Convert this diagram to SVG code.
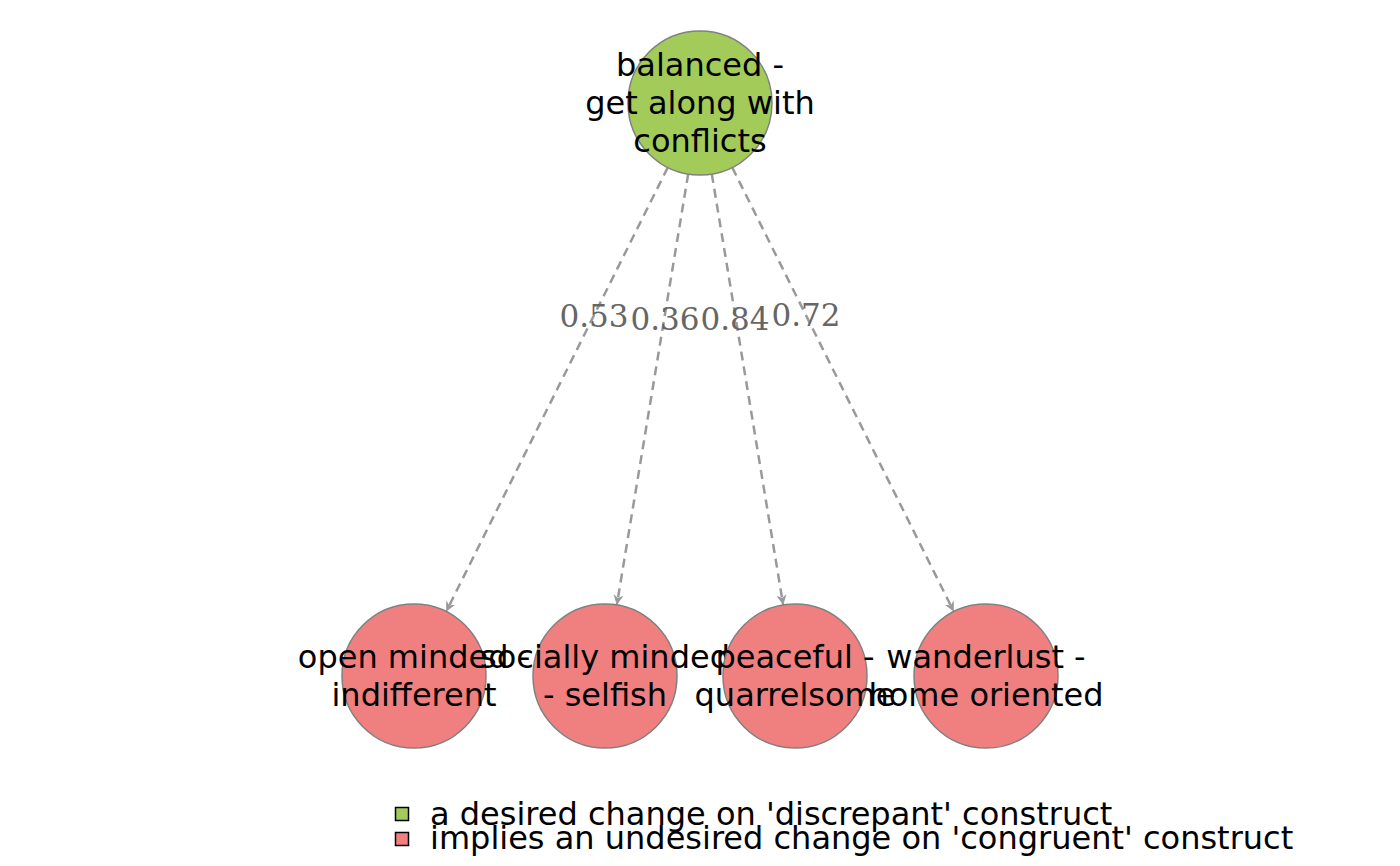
<svg xmlns="http://www.w3.org/2000/svg" width="1400" height="866" viewBox="0 0 1400 866">
<defs>
<style>
.node circle{stroke:#808080;stroke-width:1.5}
.nt{font-family:"DejaVu Sans",sans-serif;font-size:32px;fill:#000;text-anchor:middle}
.edge{stroke:#999999;stroke-width:2.5;stroke-dasharray:9,6;fill:none;marker-end:url(#ah)}
.el{font-family:"DejaVu Serif",serif;font-size:31px;fill:#666666;text-anchor:middle}
.lg{font-family:"DejaVu Sans",sans-serif;font-size:32px;fill:#000}
</style>
<marker id="ah" viewBox="0 0 10 10" refX="10" refY="5" markerWidth="4" markerHeight="4" orient="auto" markerUnits="strokeWidth">
<path d="M0,0 L10,5 L0,10 L3,5 z" fill="#999999"/>
</marker>
</defs>
<rect width="1400" height="866" fill="#ffffff"/>
<g id="connectors">
<line class="edge" x1="667.8" y1="167.4" x2="446.2" y2="611.6"/>
<line class="edge" x1="688.2" y1="174" x2="616.8" y2="605"/>
<line class="edge" x1="711.8" y1="174" x2="783.2" y2="605"/>
<line class="edge" x1="732.2" y1="167.4" x2="953.8" y2="611.6"/>
<text class="el" x="594" y="327">0.53</text>
<text class="el" x="665" y="330">0.36</text>
<text class="el" x="735" y="330">0.84</text>
<text class="el" x="806" y="326">0.72</text>
</g>
<g id="n1" class="node">
<circle cx="700" cy="103" r="72" fill="#a2cb5a"/>
<text class="nt" x="700" y="76">balanced -</text>
<text class="nt" x="700" y="114">get along with</text>
<text class="nt" x="700" y="152">conflicts</text>
</g>
<g id="n2" class="node">
<circle cx="414" cy="676" r="72" fill="#f08080"/>
<text class="nt" x="414" y="668">open minded -</text>
<text class="nt" x="414" y="706">indifferent</text>
</g>
<g id="n3" class="node">
<circle cx="605" cy="676" r="72" fill="#f08080"/>
<text class="nt" x="605" y="668">socially minded</text>
<text class="nt" x="605" y="706">- selfish</text>
</g>
<g id="n4" class="node">
<circle cx="795" cy="676" r="72" fill="#f08080"/>
<text class="nt" x="795" y="668">peaceful -</text>
<text class="nt" x="795" y="706">quarrelsome</text>
</g>
<g id="n5" class="node">
<circle cx="986" cy="676" r="72" fill="#f08080"/>
<text class="nt" x="986" y="668">wanderlust -</text>
<text class="nt" x="986" y="706">home oriented</text>
</g>
<g id="legend">
<rect x="395.5" y="807.5" width="13" height="13" fill="#a2cb5a" stroke="#000" stroke-width="1.5"/>
<rect x="395.5" y="832.5" width="13" height="13" fill="#f08080" stroke="#000" stroke-width="1.5"/>
<text class="lg" x="430" y="825">a desired change on 'discrepant' construct</text>
<text class="lg" x="430" y="849">implies an undesired change on 'congruent' construct</text>
</g>
</svg>
